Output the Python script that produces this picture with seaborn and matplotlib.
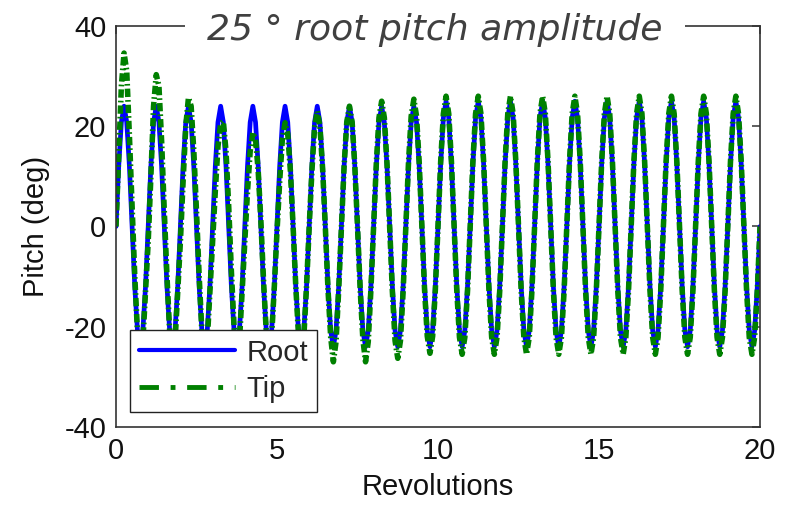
import numpy as np
import pandas as pd
import matplotlib
matplotlib.use("Agg")
import matplotlib.pyplot as plt
from matplotlib.lines import Line2D
import seaborn as sns

# samples every 1/12 revolution
revolutions = np.linspace(0, 20, 241)

root_pitch = [
    0, 12, 20.8, 24, 20.8, 12, 0, -12, -20.8, -24, -20.8, -12,      # rev 0
    0, 12, 20.8, 24, 20.8, 12, 0, -12, -20.8, -24, -20.8, -12,      # rev 1
    0, 12, 20.8, 24, 20.8, 12, 0, -12, -20.8, -24, -20.8, -12,      # rev 2
    0, 12, 20.8, 24, 20.8, 12, 0, -12, -20.8, -24, -20.8, -12,      # rev 3
    0, 12, 20.8, 24, 20.8, 12, 0, -12, -20.8, -24, -20.8, -12,      # rev 4
    0, 12, 20.8, 24, 20.8, 12, 0, -12, -20.8, -24, -20.8, -12,      # rev 5
    0, 12, 20.8, 24, 20.8, 12, 0, -12, -20.8, -24, -20.8, -12,      # rev 6
    0, 12, 20.8, 24, 20.8, 12, 0, -12, -20.8, -24, -20.8, -12,      # rev 7
    0, 12, 20.8, 24, 20.8, 12, 0, -12, -20.8, -24, -20.8, -12,      # rev 8
    0, 12, 20.8, 24, 20.8, 12, 0, -12, -20.8, -24, -20.8, -12,      # rev 9
    0, 12.5, 21.7, 25, 21.7, 12.5, 0, -12, -20.8, -24, -20.8, -12,  # rev 10
    0, 12.5, 21.7, 25, 21.7, 12.5, 0, -12, -20.8, -24, -20.8, -12,  # rev 11
    0, 12.5, 21.7, 25, 21.7, 12.5, 0, -12, -20.8, -24, -20.8, -12,  # rev 12
    0, 12.5, 21.7, 25, 21.7, 12.5, 0, -12, -20.8, -24, -20.8, -12,  # rev 13
    0, 12.5, 21.7, 25, 21.7, 12.5, 0, -12, -20.8, -24, -20.8, -12,  # rev 14
    0, 12.5, 21.7, 25, 21.7, 12.5, 0, -12, -20.8, -24, -20.8, -12,  # rev 15
    0, 12.5, 21.7, 25, 21.7, 12.5, 0, -12, -20.8, -24, -20.8, -12,  # rev 16
    0, 12.5, 21.7, 25, 21.7, 12.5, 0, -12, -20.8, -24, -20.8, -12,  # rev 17
    0, 12.5, 21.7, 25, 21.7, 12.5, 0, -12, -20.8, -24, -20.8, -12,  # rev 18
    0, 12.5, 21.7, 25, 21.7, 12.5, 0, -12, -20.8, -24, -20.8, -12,  # rev 19
    0,
]

tip_pitch = [
    0, 14, 28, 34.6, 31, 18, 4, -10, -21, -26, -23, -13,            # rev 0
    -3, 10, 24, 30.3, 28, 17, 3, -10, -21, -25.5, -23, -13,         # rev 1
    -3, 9, 20, 25.7, 24, 15, 3, -10, -21, -25, -23, -13,            # rev 2
    -3, 7, 16, 20.5, 21, 15, 4, -9, -20, -24.5, -23, -13,           # rev 3
    -3, 7, 15, 18.7, 17.5, 11, 1, -11, -21, -25, -22, -12,          # rev 4
    -1, 9, 17.5, 20.7, 18.5, 11, 0, -12, -21.5, -25, -22, -12,      # rev 5
    0, 11, 19.8, 23, 20, 11.5, 0, -12.5, -22, -27, -23, -12.5,      # rev 6
    0, 12, 20.8, 24, 20.8, 12, 0, -12.5, -22.5, -27, -23, -12.5,    # rev 7
    0, 12.5, 21.7, 25, 21.7, 12.5, 0, -13, -22.8, -26.3, -22.8, -13,  # rev 8
    0, 12.7, 22, 25.4, 22, 12.7, 0, -12.7, -21.9, -25.3, -21.9, -12.7,  # rev 9
    0, 13, 22.5, 26, 22.5, 13, 0, -12.8, -22.1, -25.5, -22.1, -12.8,  # rev 10
    0, 13, 22.5, 26, 22.5, 13, 0, -12.8, -22.1, -25.5, -22.1, -12.8,  # rev 11
    0, 13, 22.5, 26, 22.5, 13, 0, -12.8, -22.1, -25.5, -22.1, -12.8,  # rev 12
    0, 13, 22.5, 26, 22.5, 13, 0, -12.8, -22.1, -25.5, -22.1, -12.8,  # rev 13
    0, 13, 22.5, 26, 22.5, 13, 0, -12.8, -22.1, -25.5, -22.1, -12.8,  # rev 14
    0, 13, 22.5, 26, 22.5, 13, 0, -12.8, -22.1, -25.5, -22.1, -12.8,  # rev 15
    0, 13, 22.5, 26, 22.5, 13, 0, -12.8, -22.1, -25.5, -22.1, -12.8,  # rev 16
    0, 13, 22.5, 26, 22.5, 13, 0, -12.8, -22.1, -25.5, -22.1, -12.8,  # rev 17
    0, 13, 22.5, 26, 22.5, 13, 0, -12.8, -22.1, -25.5, -22.1, -12.8,  # rev 18
    0, 13, 22.5, 26, 22.5, 13, 0, -12.8, -22.1, -25.5, -22.1, -12.8,  # rev 19
    0,
]

x_ticks = [0, 5, 10, 15, 20]
y_ticks = [-40, -20, 0, 20, 40]
title_text = "25 ° root pitch amplitude"

ROOT_COLOR = "#0000ff"
TIP_COLOR = "#008000"

df = pd.DataFrame({"Revolutions": revolutions, "Root": root_pitch, "Tip": tip_pitch})

sns.set_theme(style="white")
plt.rcParams["font.family"] = ["Liberation Sans", "DejaVu Sans"]
plt.rcParams["axes.unicode_minus"] = False

fig = plt.figure(figsize=(7.87, 5.05), dpi=100)
ax = fig.add_axes([0.1474, 0.1545, 0.8183, 0.794])

sns.lineplot(data=df, x="Revolutions", y="Root", ax=ax, color=ROOT_COLOR,
             linewidth=3.4, sort=False, estimator=None, legend=False)
# the dash-dot looks much tighter along the steep curve than in the legend
sns.lineplot(data=df, x="Revolutions", y="Tip", ax=ax, color=TIP_COLOR,
             linewidth=4.0, linestyle=(0, (1.5, 0.55, 0.3, 0.55)),
             sort=False, estimator=None, legend=False)

ax.set_xlim(0, 20)
ax.set_ylim(-40, 40)
ax.set_xticks(x_ticks)
ax.set_yticks(y_ticks)
ax.set_xlabel("Revolutions", fontsize=21, color="#111111", labelpad=6)
ax.set_ylabel("Pitch (deg)", fontsize=21, color="#111111", labelpad=10)
ax.tick_params(direction="in", length=5.5, width=1.1, color="#333333",
               labelsize=21, labelcolor="#111111", pad=7,
               top=True, right=True)
for side in ax.spines.values():
    side.set_color("#333333")
    side.set_linewidth(1.2)

handles = [
    Line2D([], [], color=ROOT_COLOR, linewidth=3.0, label="Root"),
    Line2D([], [], color=TIP_COLOR, linewidth=3.5,
           linestyle=(0, (4, 2.4, 1, 2.4)), label="Tip"),
]
leg = ax.legend(handles=handles, loc="lower left", bbox_to_anchor=(0.022, 0.037),
                borderaxespad=0, fontsize=21, handlelength=3.3, handletextpad=0.4,
                borderpad=0.3, labelspacing=0.3, fancybox=False,
                framealpha=1, edgecolor="#222222")
leg.get_frame().set_linewidth(1.0)

ax.text(0.495, 1.0 - 14 / 401, title_text, transform=ax.transAxes,
        ha="center", va="baseline", fontsize=26, style="italic",
        family="DejaVu Sans", color="#404040", zorder=10,
        bbox=dict(facecolor="white", edgecolor="none", pad=16))

fig.savefig("out.png", dpi=100)
